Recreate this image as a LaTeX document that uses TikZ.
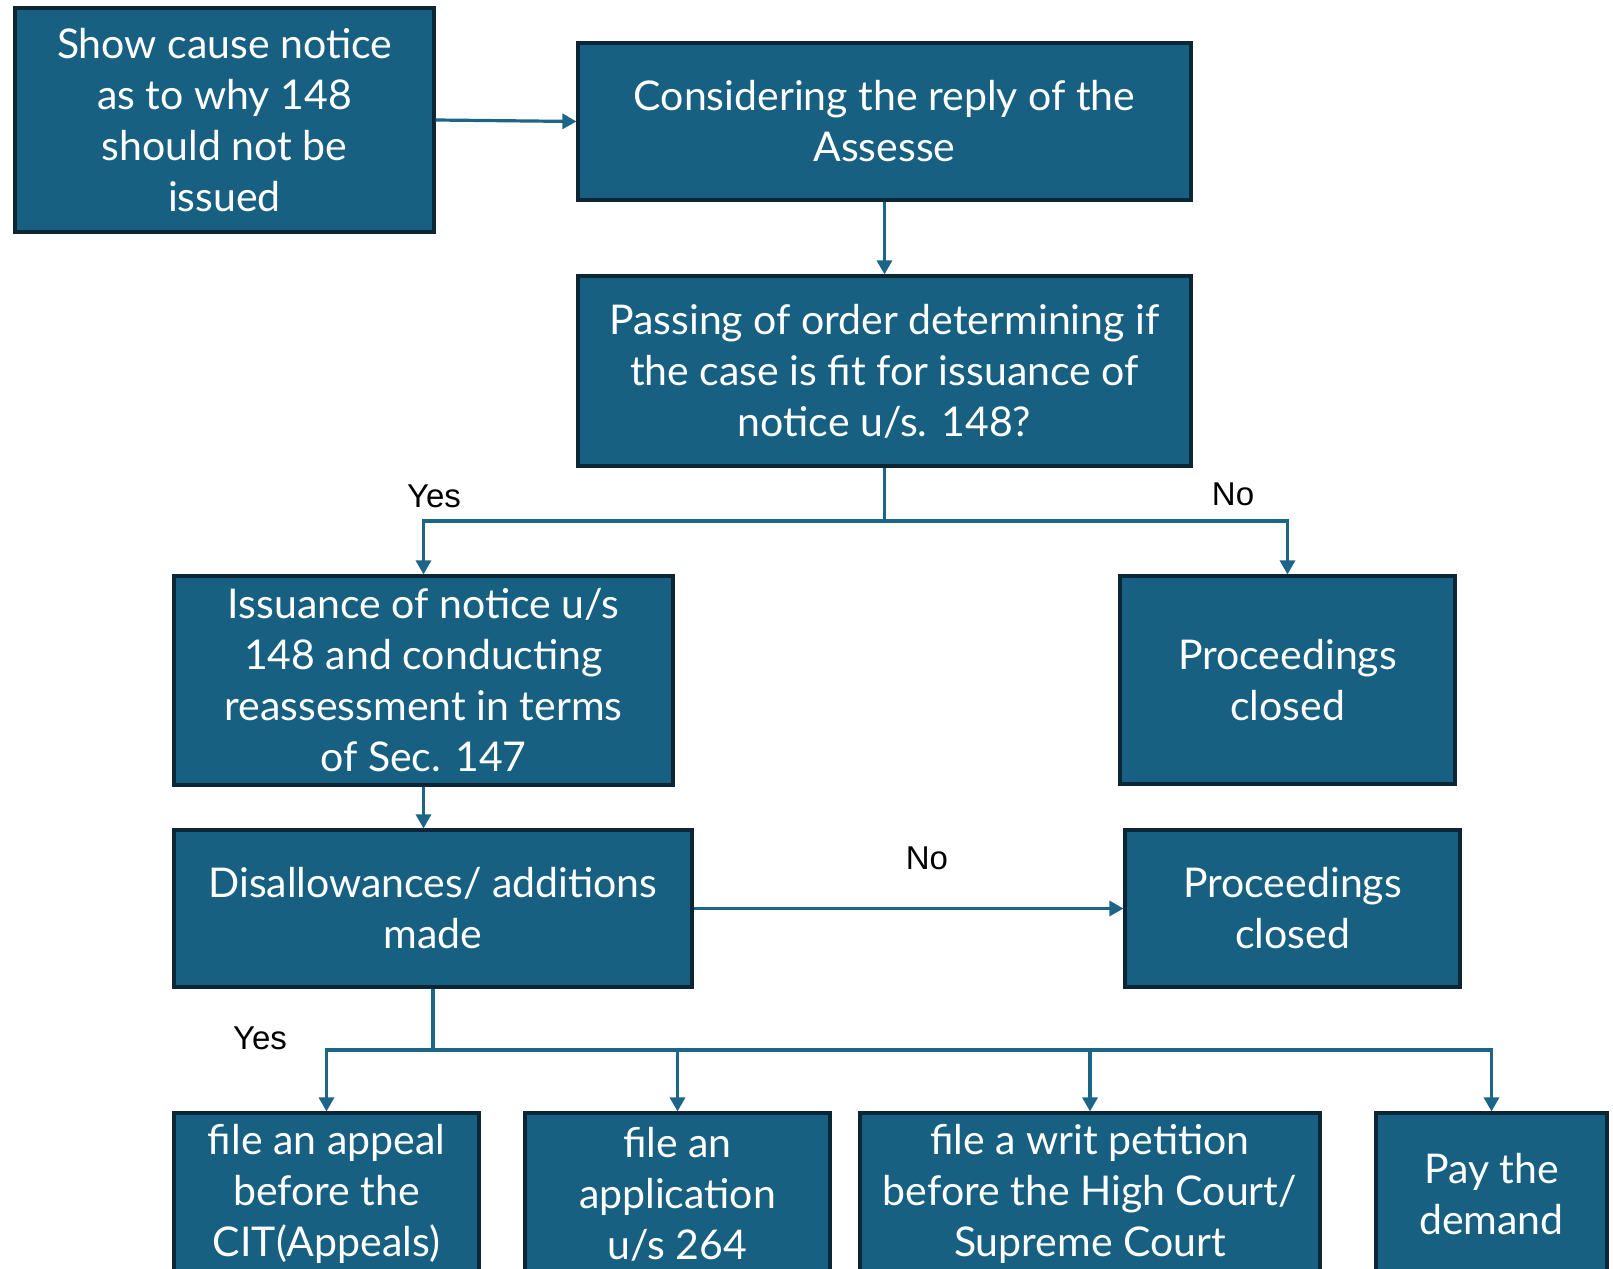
\documentclass[tikz,border=0pt]{standalone}
\usepackage{fontspec}
\setmainfont{Lato}
\newfontfamily\lblfont{Liberation Sans}
\usetikzlibrary{arrows.meta}
\definecolor{boxfill}{RGB}{24,96,130}
\definecolor{boxline}{RGB}{12,38,54}
\definecolor{conn}{RGB}{28,100,136}
\tikzset{
  flowbox/.style={draw=boxline, line width=3.2pt, fill=boxfill, text=white, inner sep=0pt,
    align=center, font=\fontsize{41}{51}\selectfont},
  arr/.style={draw=conn, line width=3.2pt, -{Triangle[width=15pt,length=14pt]}},
  plain/.style={draw=conn, line width=3.2pt},
  lbl/.style={font=\lblfont\fontsize{33}{38}\selectfont, text=black, inner sep=0pt}
}
\begin{document}
\begin{tikzpicture}[x=1pt,y=-1pt]
\useasboundingbox (0,0) rectangle (1613,1268);
\fill[white] (0,0) rectangle (1613,1268);
\clip (0,0) rectangle (1613,1268);
\node[flowbox, minimum width=419pt, minimum height=224pt] (s1) at (224.5,120) {Show cause notice\\as to why 148\\should not be\\issued};
\node[flowbox, minimum width=613pt, minimum height=157pt] (s2) at (884.5,121.5) {Considering the reply of the\\Assesse};
\node[flowbox, minimum width=613pt, minimum height=190pt] (s3) at (884.5,371) {Passing of order determining if\\the case is fit for issuance of\\notice u/s. 148?};
\node[flowbox, minimum width=499pt, minimum height=209pt] (s4) at (423.5,680.5) {Issuance of notice u/s\\148 and conducting\\reassessment in terms\\of Sec. 147};
\node[flowbox, minimum width=335pt, minimum height=208pt] (s5) at (1287.5,680) {Proceedings\\closed};
\node[flowbox, minimum width=518pt, minimum height=157pt] (s6) at (433,908.5) {Disallowances/ additions\\made};
\node[flowbox, minimum width=335pt, minimum height=157pt] (s7) at (1292.5,908.5) {Proceedings\\closed};
\node[flowbox, minimum width=305pt, minimum height=162pt] (t1) at (326.5,1194) {file an appeal\\before the\\CIT(Appeals)};
\node[flowbox, minimum width=305pt, minimum height=162pt] (t2) at (677.5,1194) {file an\\application\\u/s 264};
\node[flowbox, minimum width=460pt, minimum height=162pt] (t3) at (1090,1194) {file a writ petition\\before the High Court/\\Supreme Court};
\node[flowbox, minimum width=231pt, minimum height=162pt] (t4) at (1491.5,1194) {Pay the\\demand};
\coordinate (j1) at (884.5,521);
\coordinate (j2) at (433,1050);
\draw[arr] (s1.east) -- (s2.west);
\draw[arr] (s2.south) -- (s3.north);
\draw[plain] (s3.south) -- (j1);
\draw[arr] (j1) -| (s4.north);
\draw[arr] (j1) -| (s5.north);
\draw[arr] (s4.south) -- (s4.south |- s6.north);
\draw[arr] (s6.east) -- (s7.west);
\draw[plain] (s6.south) -- (j2);
\draw[arr] (j2) -| (t1.north);
\draw[arr] (j2) -| (t2.north);
\draw[arr] (j2) -| (t3.north);
\draw[arr] (j2) -| (t4.north);
\node[lbl] (yes1) at (434,496) {Yes};
\node[lbl] (no1) at (1233,494) {No};
\node[lbl] (no2) at (927,858) {No};
\node[lbl] (yes2) at (260,1038) {Yes};
\end{tikzpicture}
\end{document}
